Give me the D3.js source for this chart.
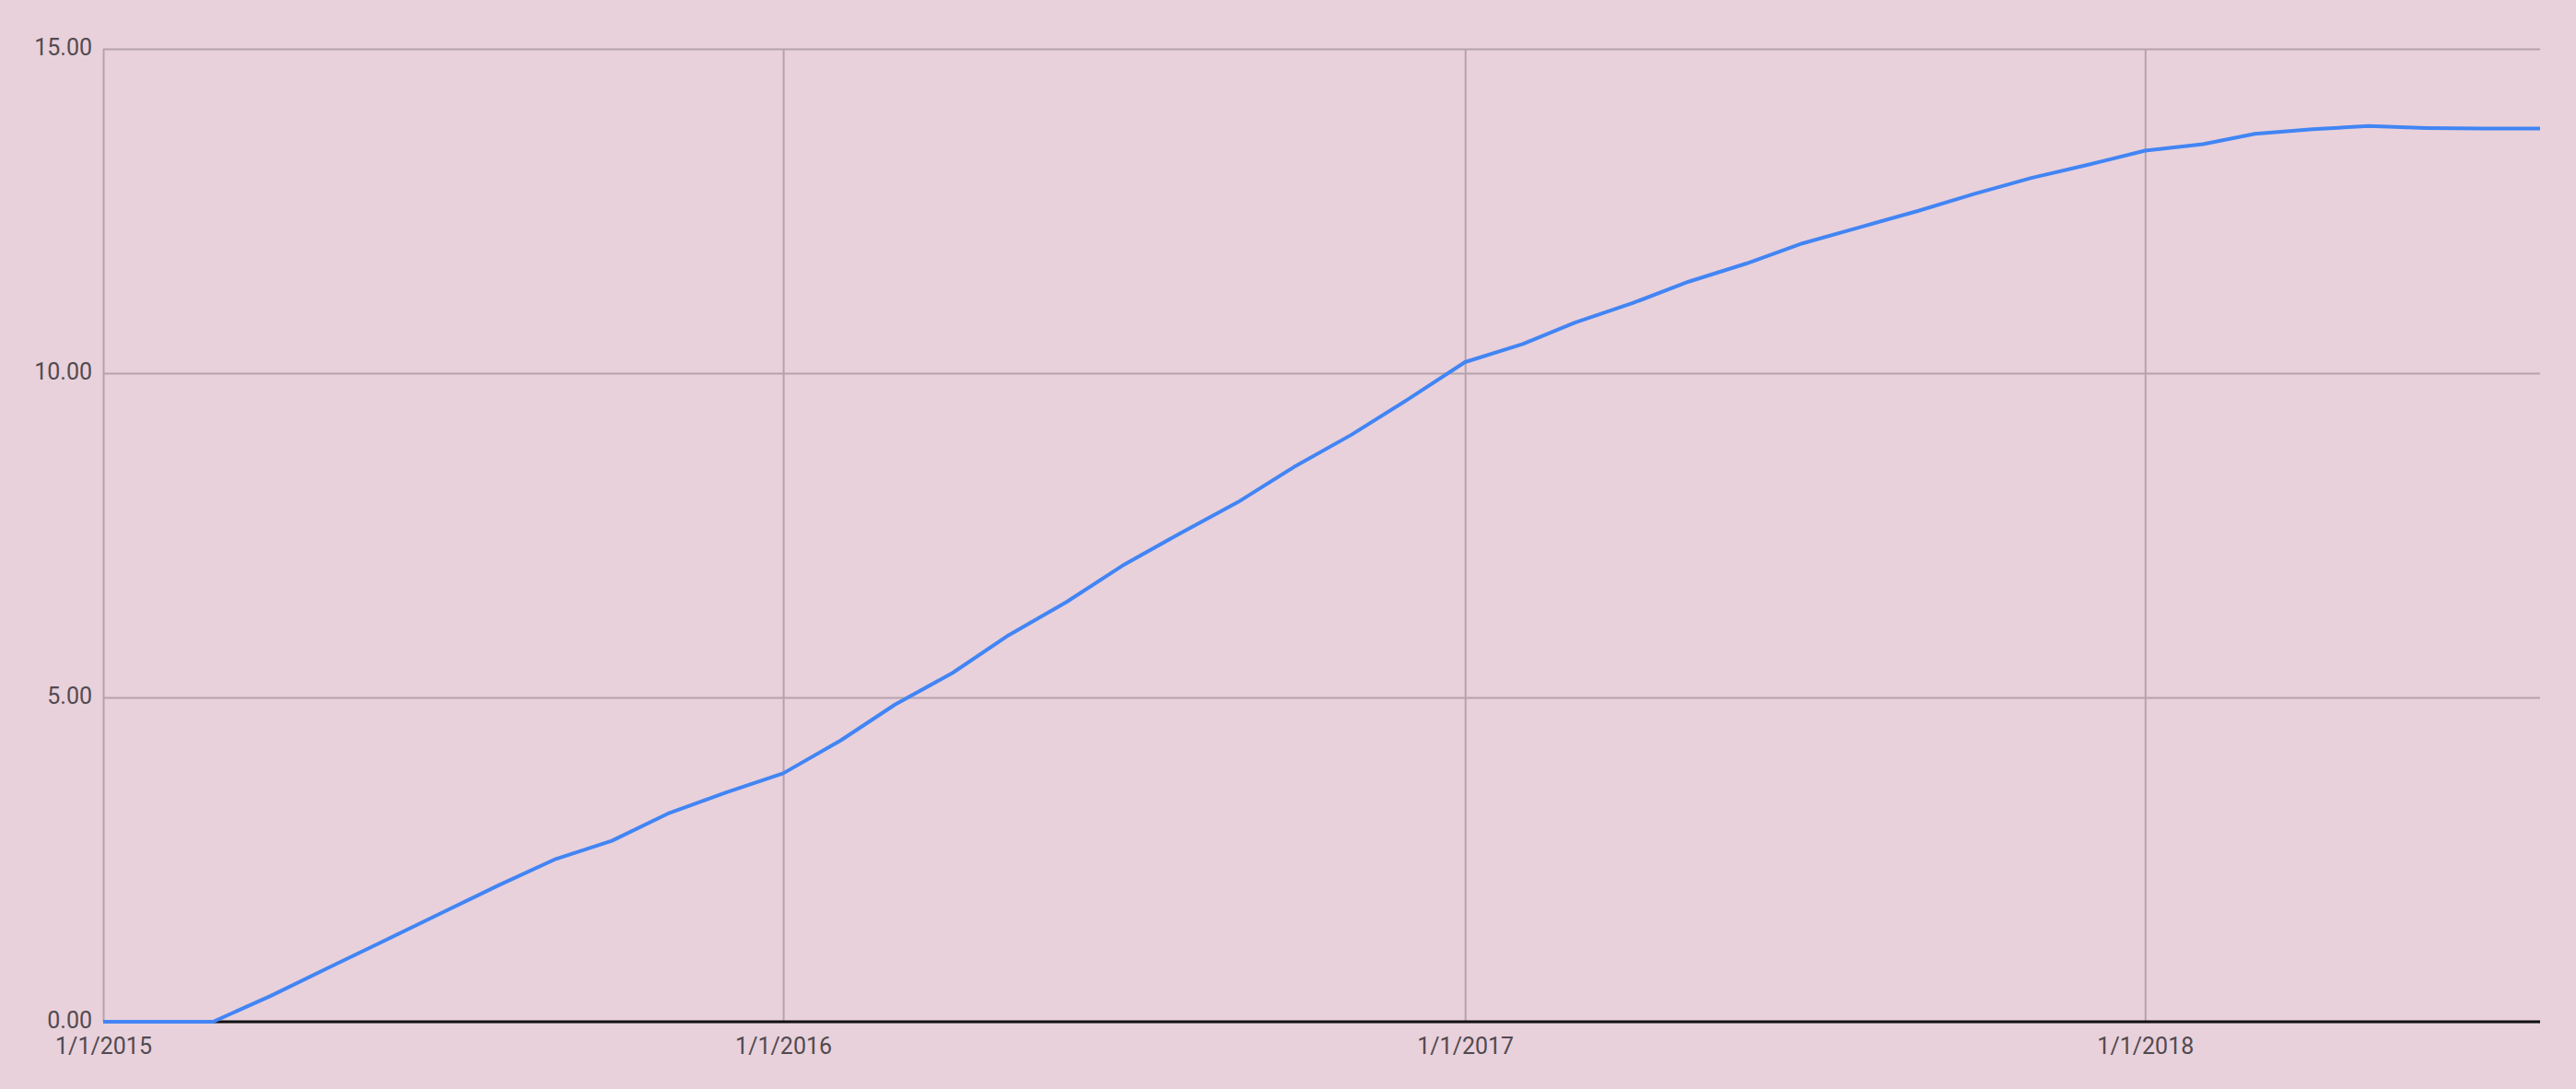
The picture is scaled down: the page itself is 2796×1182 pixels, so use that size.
<!DOCTYPE html>
<html>
<head>
<meta charset="utf-8">
<script src="https://cdn.jsdelivr.net/npm/d3@7"></script>
<style>
  html, body { margin: 0; padding: 0; background: #e8d1db; }
  svg { display: block; }
  .tick text { font-family: Roboto, "Noto Sans", sans-serif; font-size: 25px; fill: #524a4f; }
</style>
</head>
<body>
<div id="chart"></div>
<script>
const size = { width: 2796, height: 1182 };
const margin = { top: 53, right: 39, bottom: 73, left: 112 };

// monthly points
const months = [
  "2015-01-01", "2015-02-01", "2015-03-01", "2015-04-01", "2015-05-01", "2015-06-01",
  "2015-07-01", "2015-08-01", "2015-09-01", "2015-10-01", "2015-11-01", "2015-12-01",
  "2016-01-01", "2016-02-01", "2016-03-01", "2016-04-01", "2016-05-01", "2016-06-01",
  "2016-07-01", "2016-08-01", "2016-09-01", "2016-10-01", "2016-11-01", "2016-12-01",
  "2017-01-01", "2017-02-01", "2017-03-01", "2017-04-01", "2017-05-01", "2017-06-01",
  "2017-07-01", "2017-08-01", "2017-09-01", "2017-10-01", "2017-11-01", "2017-12-01",
  "2018-01-01", "2018-02-01", "2018-03-01", "2018-04-01", "2018-05-01", "2018-06-01",
  "2018-07-01", "2018-08-01"
];
const values = [
  0, 0, 0, 0.40, 0.82, 1.25, 1.67, 2.10, 2.51, 2.79, 3.22, 3.53,
  3.83, 4.34, 4.89, 5.38, 5.96, 6.47, 7.03, 7.53, 8.01, 8.55, 9.05, 9.59,
  10.17, 10.45, 10.78, 11.08, 11.41, 11.69, 12.00, 12.25, 12.50, 12.76, 13.01, 13.21,
  13.43, 13.53, 13.69, 13.76, 13.81, 13.78, 13.77, 13.77
];
const xTickDates = ["2015-01-01", "2016-01-01", "2017-01-01", "2018-01-01"];
const xTickLabels = ["1/1/2015", "1/1/2016", "1/1/2017", "1/1/2018"];
const yTicks = [0, 5, 10, 15];

const parse = d3.timeParse("%Y-%m-%d");
const data = months.map((m, i) => ({ date: parse(m), value: values[i] }));

const w = size.width - margin.left - margin.right;
const h = size.height - margin.top - margin.bottom;

const svg = d3.select("#chart")
  .append("svg")
  .attr("width", size.width)
  .attr("height", size.height);

svg.append("rect")
  .attr("width", size.width)
  .attr("height", size.height)
  .attr("fill", "#e8d1db");

const g = svg.append("g")
  .attr("transform", `translate(${margin.left},${margin.top})`);

const x = d3.scaleTime()
  .domain(d3.extent(data, d => d.date))
  .range([0, w]);

const y = d3.scaleLinear()
  .domain([0, 15])
  .range([h, 0]);

// horizontal grid + y labels
const yAxis = g.append("g")
  .call(d3.axisLeft(y)
    .tickValues(yTicks)
    .tickSize(-w)
    .tickPadding(12)
    .tickFormat(d3.format(".2f")));
yAxis.select(".domain").remove();
yAxis.selectAll(".tick line").attr("stroke", "#b6a2ac").attr("stroke-width", 2);
yAxis.selectAll(".tick text").attr("dy", "0.26em");

// vertical grid + x labels
const xTicks = xTickDates.map(parse);
const xAxis = g.append("g")
  .attr("transform", `translate(0,${h})`)
  .call(d3.axisBottom(x)
    .tickValues(xTicks)
    .tickSize(-h)
    .tickPadding(17)
    .tickFormat((d, i) => xTickLabels[i]));
xAxis.select(".domain").remove();
xAxis.selectAll(".tick line").attr("stroke", "#b6a2ac").attr("stroke-width", 2);
xAxis.selectAll(".tick text").attr("dy", "0.71em");

// baseline
g.append("line")
  .attr("x1", 0)
  .attr("x2", w)
  .attr("y1", y(0))
  .attr("y2", y(0))
  .attr("stroke", "#111")
  .attr("stroke-width", 3);

const line = d3.line()
  .x(d => x(d.date))
  .y(d => y(d.value));

g.append("path")
  .datum(data)
  .attr("fill", "none")
  .attr("stroke", "#4285f4")
  .attr("stroke-width", 4)
  .attr("stroke-linejoin", "round")
  .attr("d", line);
</script>
</body>
</html>
